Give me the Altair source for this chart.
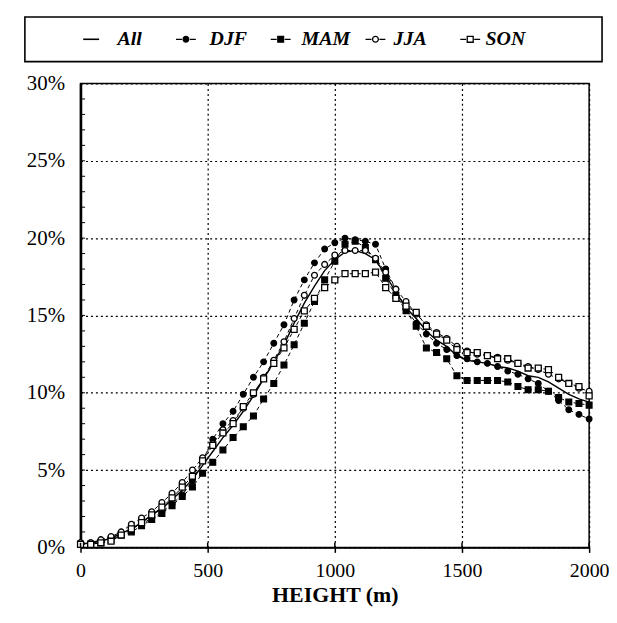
import altair as alt
import pandas as pd

series_names = ["All", "DJF", "MAM", "JJA", "SON"]
seasons = ["DJF", "MAM", "JJA", "SON"]

heights = [0, 40, 80, 120, 160, 200, 240, 280, 320, 360,
           400, 440, 480, 520, 560, 600, 640, 680, 720, 760,
           800, 840, 880, 920, 960, 1000, 1040, 1080, 1120, 1160,
           1200, 1240, 1280, 1320, 1360, 1400, 1440, 1480, 1520, 1560,
           1600, 1640, 1680, 1720, 1760, 1800, 1840, 1880, 1920, 1960,
           2000]

all_vals = [0.2, 0.3, 0.4, 0.6, 0.9,
            1.2, 1.6, 2.1, 2.5, 3.1,
            3.7, 4.4, 5.3, 6.2, 7.1,
            7.9, 8.8, 9.8, 10.9, 12.0,
            13.1, 14.5, 15.8, 16.9, 17.9,
            18.6, 19.1, 19.2, 19.0, 18.6,
            17.6, 16.5, 15.5, 14.8, 14.0,
            13.4, 13.0, 12.4, 12.1, 12.0,
            11.9, 11.7, 11.6, 11.4, 11.1,
            11.0, 10.7, 10.3, 9.9, 9.6,
            9.4]

djf_vals = [0.3, 0.3, 0.4, 0.6, 0.9,
            1.2, 1.5, 1.9, 2.3, 2.8,
            3.4, 4.3, 5.6, 7.0, 8.0,
            8.8, 9.9, 11.0, 12.0, 13.2,
            14.4, 16.0, 17.3, 18.4, 19.3,
            19.7, 20.0, 19.9, 19.8, 19.6,
            18.0, 16.7, 15.4, 14.5, 13.8,
            13.2, 12.8, 12.4, 12.2, 12.0,
            11.9, 11.7, 11.4, 11.2, 10.9,
            10.6, 10.1, 9.5, 8.9, 8.6,
            8.3]

mam_vals = [0.2, 0.2, 0.3, 0.5, 0.8,
            1.0, 1.4, 1.8, 2.2, 2.7,
            3.3, 3.9, 4.8, 5.5, 6.3,
            7.1, 7.8, 8.5, 9.6, 10.6,
            11.8, 13.1, 14.5, 15.9, 17.3,
            18.5, 19.6, 19.8, 19.4, 18.6,
            17.4, 16.3, 15.3, 14.3, 12.9,
            12.6, 12.2, 11.1, 10.8, 10.8,
            10.8, 10.8, 10.7, 10.4, 10.2,
            10.2, 10.1, 9.7, 9.4, 9.3,
            9.2]

jja_vals = [0.3, 0.3, 0.5, 0.7, 1.0,
            1.5, 1.9, 2.3, 2.9, 3.5,
            4.2, 5.0, 5.8, 6.7, 7.6,
            8.2, 9.0, 9.9, 11.0, 12.1,
            13.3, 14.8, 16.3, 17.6, 18.3,
            18.9, 19.2, 19.2, 19.2, 18.7,
            17.8, 16.7, 15.9, 15.1, 14.4,
            13.9, 13.5, 13.0, 12.7, 12.5,
            12.4, 12.3, 12.1, 11.9, 11.7,
            11.5, 11.2, 10.9, 10.6, 10.3,
            10.1]

son_vals = [0.2, 0.2, 0.3, 0.4, 0.8,
            1.2, 1.6, 2.1, 2.6, 3.2,
            3.9, 4.6, 5.6, 6.6, 7.4,
            8.0, 9.1, 10.0, 10.9, 11.9,
            12.9, 14.1, 15.3, 16.1, 16.8,
            17.3, 17.7, 17.7, 17.7, 17.8,
            16.8, 16.1, 15.6, 15.2, 14.3,
            13.8, 13.4, 12.8, 12.6, 12.6,
            12.4, 12.2, 12.2, 11.9, 11.6,
            11.6, 11.5, 11.0, 10.6, 10.4,
            9.8]

x_ticks = [0, 500, 1000, 1500, 2000]
y_ticks = [0, 0.05, 0.10, 0.15, 0.20, 0.25, 0.30]
y_minor = [i / 100 for i in range(1, 30)]

rows = []
for name, vals in zip(series_names, [all_vals, djf_vals, mam_vals, jja_vals, son_vals]):
    for h, v in zip(heights, vals):
        rows.append({"height": h, "pct": v / 100.0, "series": name})
df = pd.DataFrame(rows)

FONT = "Liberation Serif"
W, H = 512, 467

xenc = alt.X("height:Q", scale=alt.Scale(domain=[0, 2000], nice=False),
             axis=alt.Axis(values=x_ticks, title="HEIGHT (m)", grid=True,
                           format="d", labelFlush=False))
yenc = alt.Y("pct:Q", scale=alt.Scale(domain=[0, 0.30], nice=False),
             axis=alt.Axis(values=y_ticks, format=".0%", title=None, grid=True,
                           ticks=False, labelPadding=16, domainWidth=2.5))

shape_scale = alt.Scale(domain=seasons, range=["circle", "square", "circle", "square"])
fill_scale = alt.Scale(domain=seasons, range=["black", "black", "white", "white"])
size_scale = alt.Scale(domain=seasons, range=[32, 36, 32, 36])

base = alt.Chart(df)

all_line = base.transform_filter(alt.datum.series == "All").mark_line(
    color="black", strokeWidth=1.4).encode(x=xenc, y=yenc)

season_lines = base.transform_filter(alt.datum.series != "All").mark_line(
    color="black", strokeWidth=1, strokeDash=[4, 3]).encode(
    x=xenc, y=yenc, detail="series:N")

season_pts = base.transform_filter(alt.datum.series != "All").mark_point(
    color="black", strokeWidth=1.3, opacity=1, fillOpacity=1).encode(
    x=xenc, y=yenc,
    shape=alt.Shape("series:N", scale=shape_scale, legend=None),
    fill=alt.Fill("series:N", scale=fill_scale, legend=None),
    size=alt.Size("series:N", scale=size_scale, legend=None),
)

minor_y = alt.Chart(pd.DataFrame({"v": y_minor})).mark_rule(
    color="black", strokeWidth=1).encode(
    y="v:Q", x=alt.datum(0), x2=alt.datum(18))

inner_x = alt.Chart(pd.DataFrame({"v": x_ticks})).mark_rule(
    color="black", strokeWidth=1.5).encode(
    x="v:Q", y=alt.datum(0), y2=alt.datum(0.003))

plot = alt.layer(all_line, season_lines, season_pts, minor_y, inner_x)

# ---- legend box, drawn above the plot area ----
leg_df = pd.DataFrame({"series": series_names})
BOX_L, BOX_R, BOX_T, BOX_B = -56, 525, -67, -22
mid = alt.value((BOX_T + BOX_B) / 2)
sym_x = alt.X("series:N", sort=series_names, axis=None,
              scale=alt.Scale(domain=series_names, range=[BOX_L + 19, BOX_L + 496]))
txt_x = alt.X("series:N", sort=series_names, axis=None,
              scale=alt.Scale(domain=series_names, range=[BOX_L + 47, BOX_L + 510]))

leg_box = alt.Chart(pd.DataFrame({"k": [0]})).mark_rect(
    fill="white", stroke="black", strokeWidth=1.6).encode(
    x=alt.value(BOX_L), x2=alt.value(BOX_R), y=alt.value(BOX_T), y2=alt.value(BOX_B))
leg_all = alt.Chart(leg_df).transform_filter(alt.datum.series == "All").mark_rule(
    color="black", strokeWidth=1.6, xOffset=-8, x2Offset=8).encode(
    x=sym_x, x2="series:N", y=mid)
leg_dash = alt.Chart(leg_df).transform_filter(alt.datum.series != "All").mark_rule(
    color="black", strokeWidth=1.3, xOffset=-10, x2Offset=10, strokeDash=[6, 8]).encode(
    x=sym_x, x2="series:N", y=mid)
leg_pts = alt.Chart(leg_df).transform_filter(alt.datum.series != "All").mark_point(
    color="black", strokeWidth=1.3, opacity=1, fillOpacity=1).encode(
    x=sym_x, y=mid,
    shape=alt.Shape("series:N", scale=shape_scale, legend=None),
    fill=alt.Fill("series:N", scale=fill_scale, legend=None),
    size=alt.Size("series:N", scale=size_scale, legend=None),
)
leg_txt = alt.Chart(leg_df).mark_text(
    align="left", baseline="middle", font=FONT, fontStyle="italic",
    fontWeight="bold", fontSize=20, color="black").encode(
    x=txt_x, y=mid, text="series:N")

leg_syms = alt.layer(leg_box, leg_all, leg_dash, leg_pts)
legend = alt.layer(leg_syms, leg_txt).resolve_scale(x="independent")

chart = alt.layer(plot, legend).resolve_scale(x="independent").properties(
    width=W, height=H,
    padding={"left": 16, "top": 6, "right": 0, "bottom": 0},
    background="white",
).configure_view(
    stroke="black", strokeWidth=1.5
).configure_axis(
    labelFont=FONT, labelFontSize=21, labelColor="black",
    titleFont=FONT, titleFontSize=22, titleFontWeight="bold", titleColor="black",
    domainColor="black", domainWidth=1.5,
    tickColor="black", tickWidth=1.5, tickSize=5,
    gridColor="black", gridDash=[2, 3], gridWidth=1.2, gridOpacity=1,
).configure_axisX(
    labelFontSize=20, labelPadding=8, titlePadding=4,
)

chart.save("out.html", embed_options={"renderer": "svg", "actions": False})
